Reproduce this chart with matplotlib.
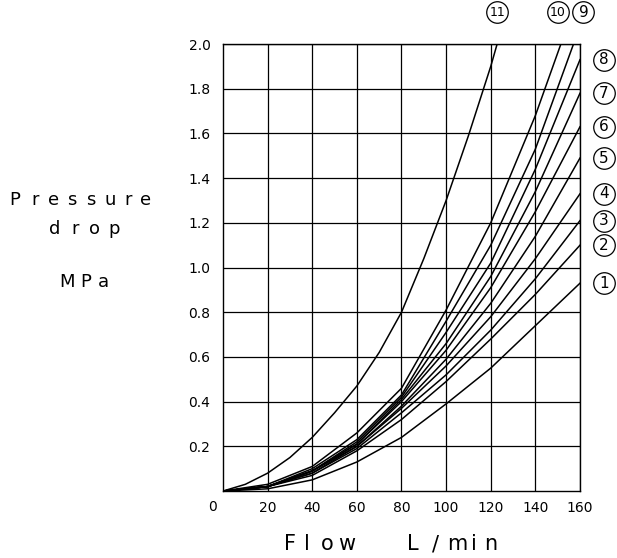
import matplotlib
matplotlib.use('Agg')
import matplotlib.pyplot as plt
from matplotlib.transforms import offset_copy
import numpy as np

# Caudal (L/min) e queda de pressão (MPa)
flow = [0, 20, 40, 60, 80, 100, 120, 140, 160]
curve_1 = [0, 0.01, 0.05, 0.13, 0.24, 0.39, 0.55, 0.74, 0.93]
curve_2 = [0, 0.02, 0.07, 0.18, 0.32, 0.49, 0.68, 0.88, 1.10]
curve_3 = [0, 0.02, 0.08, 0.19, 0.35, 0.52, 0.72, 0.95, 1.21]
curve_4 = [0, 0.02, 0.08, 0.20, 0.37, 0.56, 0.78, 1.04, 1.33]
curve_5 = [0, 0.02, 0.09, 0.20, 0.38, 0.59, 0.84, 1.14, 1.49]
curve_6 = [0, 0.02, 0.09, 0.21, 0.40, 0.63, 0.91, 1.25, 1.63]
curve_7 = [0, 0.02, 0.09, 0.21, 0.41, 0.66, 0.96, 1.34, 1.78]
curve_8 = [0, 0.02, 0.09, 0.22, 0.42, 0.71, 1.02, 1.44, 1.93]
curve_9 = [0, 0.02, 0.10, 0.23, 0.43, 0.76, 1.10, 1.53, 2.08]
curve_10 = [0, 0.03, 0.11, 0.26, 0.46, 0.81, 1.20, 1.68, 2.24]
flow_11 = [0, 10, 20, 30, 40, 50, 60, 70, 80, 90, 100, 110, 120, 130]
curve_11 = [0, 0.03, 0.08, 0.15, 0.24, 0.35, 0.47, 0.62, 0.80, 1.04, 1.30, 1.59, 1.90, 2.25]

side_curves = [curve_1, curve_2, curve_3, curve_4, curve_5, curve_6, curve_7, curve_8]
curve_names = ['1', '2', '3', '4', '5', '6', '7', '8', '9', '10', '11']

x_ticks = [20, 40, 60, 80, 100, 120, 140, 160]
y_ticks = [0.2, 0.4, 0.6, 0.8, 1.0, 1.2, 1.4, 1.6, 1.8, 2.0]

W, H = 617, 558
fig = plt.figure(figsize=(W / 100, H / 100), dpi=100)
ax = fig.add_axes([0.3614, 0.120, 0.5786, 0.801])

# Curvas
for c in side_curves + [curve_9, curve_10]:
    ax.plot(flow, c, color='black', linewidth=1.1)
ax.plot(flow_11, curve_11, color='black', linewidth=1.1)

ax.set_xlim(0, 160)
ax.set_ylim(0, 2.0)
ax.set_xticks(x_ticks)
ax.set_yticks(y_ticks)
ax.set_yticklabels([f'{v:.1f}' for v in y_ticks])
ax.tick_params(length=0, labelsize=10, pad=7)
ax.tick_params(axis='y', pad=9)
ax.grid(True, color='black', linewidth=0.9)
for s in ax.spines.values():
    s.set_linewidth(1.0)
    s.set_color('black')

ax.text(-0.03, -0.035, '0', transform=ax.transAxes, ha='center', va='center', fontsize=10)


def spaced(letters, xs, y, size):
    # letras espaçadas, posições em pixels a partir do canto superior esquerdo
    for ch, x in zip(letters, xs):
        fig.text(x / W, 1 - y / H, ch, ha='center', va='center', fontsize=size)


# Rótulos dos eixos
spaced('Pressure', [15, 35, 54, 72, 91, 110, 128, 146], 200, 13)
spaced('drop', [55, 75, 95, 114], 229, 13)
spaced('MPa', [67, 86, 103], 282, 13)
spaced('Flow', [290, 307, 327, 347], 544, 15)
spaced('L/min', [413, 436, 457, 474, 491], 544, 15)


def circle_label(name, xy, dx, dy):
    # número dentro de um círculo de tamanho fixo
    tr = offset_copy(ax.transData, fig=fig, x=dx, y=dy, units='dots')
    ax.plot([xy[0]], [xy[1]], marker='o', markersize=15.5, markerfacecolor='white',
            markeredgecolor='black', markeredgewidth=0.9, transform=tr, clip_on=False)
    size = 11 if len(name) == 1 else 9
    ax.text(xy[0], xy[1], name, transform=tr, ha='center', va='center',
            fontsize=size, clip_on=False)


for i, c in enumerate(side_curves):
    circle_label(curve_names[i], (160, c[-1]), 24, 0)
x9 = np.interp(2.0, curve_9, flow)
x10 = np.interp(2.0, curve_10, flow)
x11 = np.interp(2.0, curve_11, flow_11)
circle_label(curve_names[8], (x9, 2.0), 10, 32)
circle_label(curve_names[9], (x10, 2.0), -3, 32)
circle_label(curve_names[10], (x11, 2.0), 0, 32)

fig.savefig('out.png', dpi=100)
